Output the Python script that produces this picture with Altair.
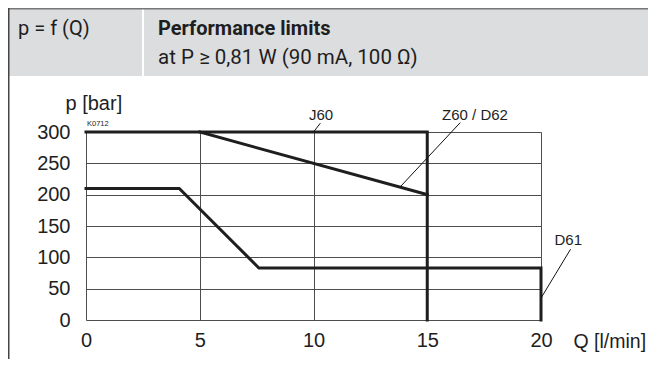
import altair as alt
import pandas as pd

# ---- data (Q in l/min, p in bar) ----
j60_q = [0, 15, 15]
j60_p = [300, 300, 0]
z60_q = [5, 15]
z60_p = [300, 200]
d61_q = [0, 4.1, 7.6, 20, 20]
d61_p = [210, 210, 83, 83, 0]

x_ticks = [0, 5, 10, 15, 20]
y_ticks = [0, 50, 100, 150, 200, 250, 300]

label_names = ["J60", "Z60 / D62", "D61"]
label_q = [10.33, 17.1, 21.2]
label_p = [319, 319, 120]
leader_q1 = [10.3, 16.45, 21.3]
leader_p1 = [314, 315, 113]
leader_q2 = [10.0, 13.8, 20.0]
leader_p2 = [300, 212, 35]

code_text = "K0712"
header_left = "p = f (Q)"
header_title = "Performance limits"
header_sub = "at P \u2265 0,81 W (90 mA, 100 \u03a9)"
x_title = "Q [l/min]"
y_title = "p [bar]"

AX_FONT = "Liberation Sans"
HD_FONT = "Roboto, Liberation Sans"
INK = "#1e1e1e"

rows = []
for name, qs, ps in [("J60", j60_q, j60_p), ("Z60 / D62", z60_q, z60_p), ("D61", d61_q, d61_p)]:
    for i, (q, p) in enumerate(zip(qs, ps)):
        rows.append({"series": name, "i": i, "q": q, "p": p})
lines_df = pd.DataFrame(rows)
labels_df = pd.DataFrame({"name": label_names, "q": label_q, "p": label_p})
leaders_df = pd.DataFrame({"q": leader_q1, "p": leader_p1, "q2": leader_q2, "p2": leader_p2})
code_df = pd.DataFrame({"q": [0], "p": [309], "t": [code_text]})
one = pd.DataFrame({"a": [0]})

xscale = alt.Scale(domain=[0, 20], nice=False, zero=False)
yscale = alt.Scale(domain=[0, 300], nice=False, zero=False)

x_axis = alt.Axis(
    values=x_ticks, tickCount=5, grid=True, gridColor="#4d4d4d", gridWidth=1,
    domain=False, ticks=False, tickSize=0,
    labelFont=AX_FONT, labelFontSize=20, labelColor=INK,
    labelPadding=20, labelBaseline="middle", labelFlush=False, labelOverlap=False,
    title=x_title, titleFont=AX_FONT, titleFontSize=19.5, titleFontWeight="normal",
    titleColor=INK, titleX=487, titleY=27, titleAlign="left",
    titleBaseline="alphabetic")
y_axis = alt.Axis(
    values=y_ticks, tickCount=7, grid=True, gridColor="#4d4d4d", gridWidth=1,
    domain=False, ticks=False, tickSize=0,
    labelFont=AX_FONT, labelFontSize=20, labelColor=INK,
    labelPadding=16, labelBaseline="middle", labelFlush=False, labelOverlap=False,
    title=y_title, titleFont=AX_FONT, titleFontSize=20, titleFontWeight="normal",
    titleColor=INK, titleAngle=0, titleX=-21, titleY=-23, titleAlign="left",
    titleBaseline="alphabetic")

X = alt.X("q:Q", scale=xscale, axis=x_axis)
Y = alt.Y("p:Q", scale=yscale, axis=y_axis)

lines = alt.Chart(lines_df).mark_line(
    color=INK, strokeWidth=3, strokeJoin="miter", strokeCap="square"
).encode(x=X, y=Y, detail="series:N", order="i:Q")

leaders = alt.Chart(leaders_df).mark_rule(color="#111", strokeWidth=1).encode(
    x=X, y=Y, x2="q2:Q", y2="p2:Q"
)

labels = alt.Chart(labels_df).mark_text(
    font=AX_FONT, fontSize=15, color=INK, align="center", baseline="alphabetic"
).encode(x=X, y=Y, text="name:N")

code = alt.Chart(code_df).mark_text(
    font=AX_FONT, fontSize=7.5, color=INK, align="left", baseline="alphabetic", dx=1
).encode(x=X, y=Y, text="t:N")

# header band (pixel positions relative to the plot origin)
band = alt.Chart(one).mark_rect(color="#dcdddf").encode(
    x=alt.value(-78), x2=alt.value(562), y=alt.value(-124), y2=alt.value(-56)
)
sep = alt.Chart(one).mark_rule(color="#ffffff", strokeWidth=2).encode(
    x=alt.value(57), y=alt.value(-124), y2=alt.value(-56)
)
top_border = alt.Chart(one).mark_rule(color="#777777", strokeWidth=1.5).encode(
    x=alt.value(-78), x2=alt.value(562), y=alt.value(-123.25)
)
left_border = alt.Chart(one).mark_rule(color="#444444", strokeWidth=1.5).encode(
    x=alt.value(-77.25), y=alt.value(-124), y2=alt.value(227)
)
h_left = alt.Chart(one).mark_text(
    font=HD_FONT, fontSize=20, color=INK, align="left", baseline="alphabetic"
).encode(x=alt.value(-68), y=alt.value(-97), text=alt.value(header_left))
h_title = alt.Chart(one).mark_text(
    font=HD_FONT, fontSize=20, fontWeight="bold", color=INK, align="left", baseline="alphabetic"
).encode(x=alt.value(72), y=alt.value(-97), text=alt.value(header_title))
h_sub = alt.Chart(one).mark_text(
    font=HD_FONT, fontSize=20.5, color=INK, align="left", baseline="alphabetic"
).encode(x=alt.value(72), y=alt.value(-68), text=alt.value(header_sub))

chart = alt.layer(
    band, sep, top_border, left_border, h_left, h_title, h_sub,
    lines, leaders, labels, code
).properties(
    width=455, height=188,
    padding={"left": 78, "top": 124, "right": 107, "bottom": 39},
    autosize=alt.AutoSizeParams(type="none"),
).configure_view(stroke=None).configure(background="white")

chart.save("out.html", embed_options={"renderer": "svg", "actions": False})
